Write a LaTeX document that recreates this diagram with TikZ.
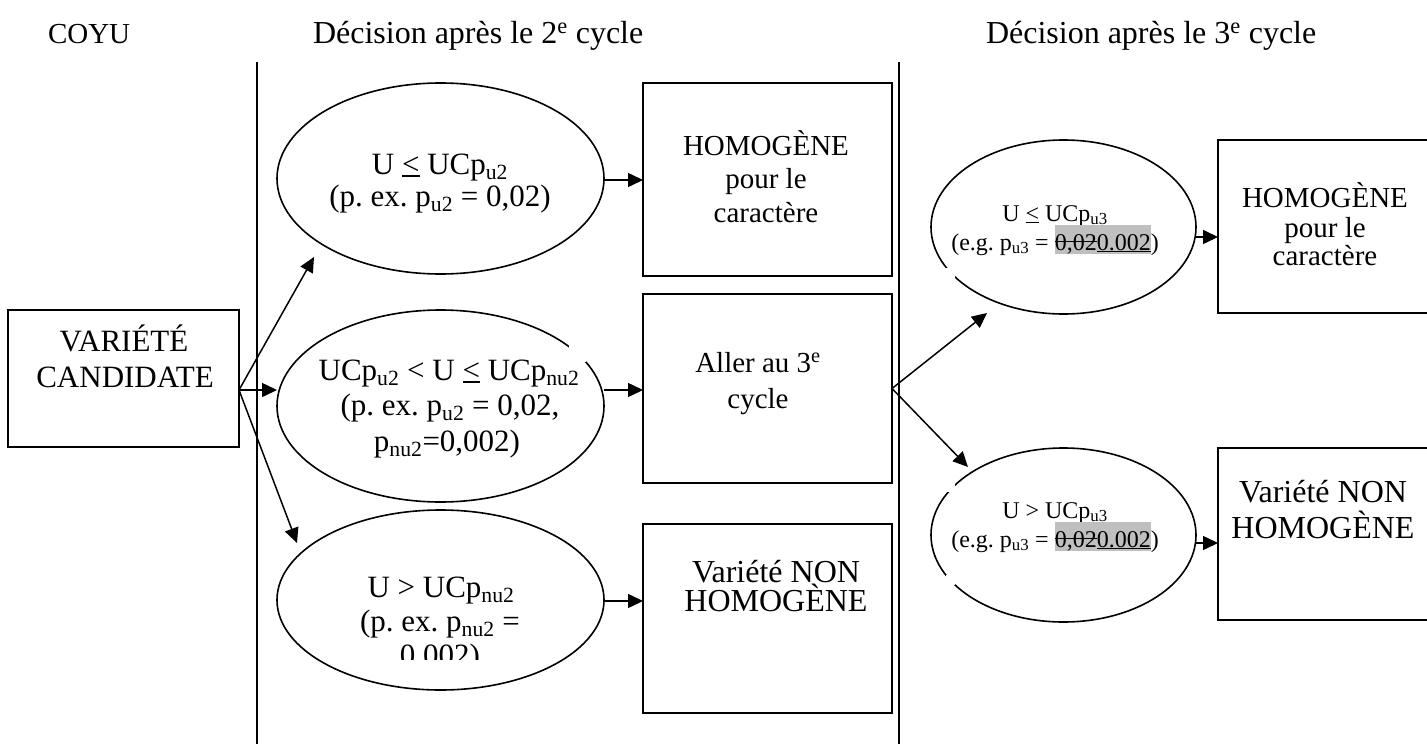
\documentclass[tikz,border=0pt]{standalone}
\usepackage{fontspec}
\setmainfont{Liberation Serif}
\usetikzlibrary{arrows.meta,calc,shapes.geometric}
\frenchspacing
\newsavebox\mytmpbox
\newcommand\strk[1]{\sbox\mytmpbox{#1}\rlap{\usebox\mytmpbox}\rule[0.32em]{\wd\mytmpbox}{0.055em}}
\newcommand\undl[1]{\sbox\mytmpbox{#1}\rlap{\usebox\mytmpbox}\rule[-0.09em]{\wd\mytmpbox}{0.055em}}
\newcommand\hlstrut{\rule[-0.14em]{0pt}{1.18em}}
\newcommand\hlbox[1]{{\setlength{\fboxsep}{0pt}\colorbox{gray!50}{\hlstrut#1}}}
\tikzset{
  every node/.style={inner sep=0pt, outer sep=0pt},
  shapeline/.style={draw=black, line width=1.6pt},
  box/.style={shapeline, rectangle},
  ell/.style={shapeline, ellipse},
  sep/.style={line width=1.6pt},
  arr/.style={line width=1.5pt, -{Triangle[length=15pt,width=14pt]}},
  txt/.style={anchor=base, align=center},
  ftitle/.style={font=\fontsize{32}{36}\selectfont},
  fbig/.style={font=\fontsize{31}{36}\selectfont},
  fbox/.style={font=\fontsize{29}{33}\selectfont},
  fboxb/.style={font=\fontsize{32}{36}\selectfont},
  fsmall/.style={font=\fontsize{24}{27}\selectfont},
}
\begin{document}
\begin{tikzpicture}[x=1pt,y=-1pt]
\useasboundingbox (0,0) rectangle (1427,744);
\fill[white] (0,0) rectangle (1427,744);

% titles
\node[txt, font=\fontsize{29}{33}\selectfont, anchor=base west] (tcoyu) at (48,43) {COYU};
\node[txt, ftitle, anchor=base west] (tdec2) at (313,43) {Décision après le 2\textsuperscript{e} cycle};
\node[txt, ftitle, anchor=base west] (tdec3) at (986,43) {Décision après le 3\textsuperscript{e} cycle};

% separators
\coordinate (s1top) at (257,62); \coordinate (s1bot) at (257,744);
\coordinate (s2top) at (899,62); \coordinate (s2bot) at (899,744);
\draw[sep] (s1top) -- (s1bot);
\draw[sep] (s2top) -- (s2bot);

% candidate box
\node[box, minimum width=231pt, minimum height=137pt] (cand) at (123.5,378.5) {};
\node[txt, fbig] (cand1) at (124,351) {VARIÉTÉ};
\node[txt, fbig] (cand2) at (125,387) {CANDIDATE};

% second-cycle ellipses
\node[ell, minimum width=327pt, minimum height=191pt] (e1) at (440.5,178.5) {};
\node[txt, fbig] (e1a) at (440,174) {U \undl{<} UCp\textsubscript{u2}};
\node[txt, fbig] (e1b) at (440,206) {(p. ex. p\textsubscript{u2} = 0,02)};

\node[ell, minimum width=327pt, minimum height=192pt] (e2) at (440.5,406) {};
\fill[white] (569,335) rectangle (586,362);
\node[txt, fbig] (e2a) at (449,380) {UCp\textsubscript{u2} < U \undl{<} UCp\textsubscript{nu2}};
\node[txt, fbig] (e2b) at (450,415) {(p. ex. p\textsubscript{u2} = 0,02,};
\node[txt, fbig] (e2c) at (447,451) {p\textsubscript{nu2}=0,002)};

\node[ell, minimum width=327pt, minimum height=180pt] (e3) at (440.5,600) {};
\node[txt, fbig] (e3a) at (441,597) {U > UCp\textsubscript{nu2}};
\node[txt, fbig] (e3b) at (440,631) {(p. ex. p\textsubscript{nu2} =};
\begin{scope}
  \clip (300,640) rectangle (580,659);
  \node[txt, fbig] (e3c) at (440,665) {0,002)};
\end{scope}

% second-cycle result boxes
\node[box, minimum width=249pt, minimum height=193pt] (b1) at (767.5,179.5) {};
\node[txt, fbox] (b1a) at (766,155) {HOMOGÈNE};
\node[txt, fbox] (b1b) at (766,188) {pour le};
\node[txt, fbox] (b1c) at (766,222) {caractère};

\node[box, minimum width=249pt, minimum height=189pt] (b2) at (767.5,388.5) {};
\node[txt, fbox] (b2a) at (758,372) {Aller au 3\textsuperscript{e}};
\node[txt, fbox] (b2b) at (758,408) {cycle};

\node[box, minimum width=249pt, minimum height=189pt] (b3) at (767.5,618.5) {};
\node[txt, fboxb] (b3a) at (776,582) {Variété NON};
\node[txt, fboxb] (b3b) at (776,611) {HOMOGÈNE};

% third-cycle ellipses
\node[ell, minimum width=265pt, minimum height=174pt] (r1) at (1063.5,227) {};
\fill[white] (946,268) rectangle (955,278);
\node[txt, fsmall] (r1a) at (1055,221) {U \undl{<} UCp\textsubscript{u3}};
\node[txt, fsmall] (r1b) at (1055,250) {(e.g. p\textsubscript{u3} = \hlbox{\strk{0,02}\undl{0.002}})};

\node[ell, minimum width=265pt, minimum height=174pt] (r2) at (1063.5,535) {};
\fill[white] (946,482) rectangle (955,492);
\fill[white] (946,575) rectangle (955,585);
\node[txt, fsmall] (r2a) at (1055,518) {U > UCp\textsubscript{u3}};
\node[txt, fsmall] (r2b) at (1055,547) {(e.g. p\textsubscript{u3} = \hlbox{\strk{0,02}\undl{0.002}})};

% third-cycle result boxes
\node[box, minimum width=214pt, minimum height=173pt] (rb1) at (1325,226.5) {};
\node[txt, fbox] (rb1a) at (1325,207) {HOMOGÈNE};
\node[txt, fbox] (rb1b) at (1325,237) {pour le};
\node[txt, fbox] (rb1c) at (1325,265) {caractère};

\node[box, minimum width=214pt, minimum height=172pt] (rb2) at (1325,534) {};
\node[txt, fboxb] (rb2a) at (1323,502) {Variété NON};
\node[txt, fboxb] (rb2b) at (1323,538) {HOMOGÈNE};

% connectors
\coordinate (cout) at (239,390);
\coordinate (tip1) at (314,257);
\coordinate (tip3) at (297,543);
\draw[arr] (cout) -- (tip1);
\draw[arr] (cout) -- (e2.west |- cout);
\draw[arr] (cout) -- (tip3);

\draw[arr] (e1.east |- 0,180) -- (b1.west |- 0,180);
\draw[arr] (e2.east |- 0,390) -- (b2.west |- 0,390);
\draw[arr] (e3.east |- 0,601) -- (b3.west |- 0,601);

\coordinate (rtip1) at (987,313);
\coordinate (rtip2) at (968,467);
\draw[arr] (b2.east) -- (rtip1);
\draw[arr] (b2.east) -- (rtip2);

\draw[arr] (r1.east |- 0,237) -- (rb1.west |- 0,237);
\draw[arr] (r2.east |- 0,543) -- (rb2.west |- 0,543);
\end{tikzpicture}
\end{document}
